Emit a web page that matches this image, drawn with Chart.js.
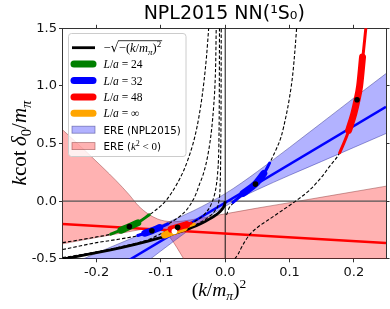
<!DOCTYPE html>
<html>
<head>
<meta charset="utf-8">
<script src="https://cdn.jsdelivr.net/npm/chart.js@4.4.0/dist/chart.umd.min.js"></script>
<style>
html, body { margin: 0; padding: 0; background: #fff; }
#c { display: block; }
</style>
</head>
<body>
<canvas id="c" width="390" height="309"></canvas>
<script>
// axes
const xRange = [-0.253, 0.25];
const yRange = [-0.5, 1.5];
const xTicks = [-0.2, -0.1, 0.0, 0.1, 0.2];
const yTicks = [-0.5, 0.0, 0.5, 1.0, 1.5];

// ERE band from the k^2 < 0 fit (pink)
const pinkX =     [-0.253, -0.22, -0.19, -0.17, -0.15, -0.135, -0.12, -0.105, -0.094, -0.08, -0.07, -0.06, -0.04, -0.02, 0.0, 0.05, 0.1, 0.162, 0.25];
const pinkUpper = [0.62, 0.45, 0.29, 0.18, 0.06, -0.04, -0.11, -0.155, -0.172, -0.178, -0.175, -0.168, -0.15, -0.13, -0.11, -0.06, -0.013, 0.046, 0.13];
const pinkLower = [-0.37, -0.335, -0.305, -0.285, -0.265, -0.25, -0.238, -0.24, -0.265, -0.36, -0.45, -0.54, -0.68, -0.82, -0.96, -1.3, -1.65, -2.05, -2.65];

// ERE band NPL2015 (blue)
const blueX =     [-0.253, -0.2, -0.15, -0.1, -0.05, -0.025, 0.0, 0.025, 0.05, 0.1, 0.15, 0.2, 0.25];
const blueUpper = [-0.58, -0.45, -0.333, -0.21, -0.085, -0.013, 0.065, 0.157, 0.257, 0.466, 0.68, 0.895, 1.107];
const blueLower = [-1.09, -0.86, -0.645, -0.432, -0.225, -0.13, -0.045, 0.033, 0.1, 0.225, 0.345, 0.466, 0.587];

// central ERE lines
const ereX = [-0.253, 0.25];
const ereBlueY = [-0.855, 0.818];
const ereRedY = [-0.197, -0.362];

// -sqrt(-(k/m)^2)
const boundX = [-0.253, -0.22, -0.2, -0.18, -0.16, -0.14, -0.12, -0.1, -0.08, -0.06, -0.05, -0.04, -0.03, -0.02, -0.015, -0.01, -0.006, -0.003, -0.001, 0];
const boundY = [-0.503, -0.469, -0.447, -0.424, -0.4, -0.374, -0.346, -0.316, -0.283, -0.245, -0.224, -0.2, -0.173, -0.141, -0.122, -0.1, -0.077, -0.055, -0.032, 0];

// finite volume curves (dashed)
const c24X = [-0.253, -0.22, -0.2, -0.176, -0.149, -0.13, -0.118, -0.1, -0.09, -0.076, -0.065, -0.058, -0.05, -0.044, -0.038, -0.033, -0.029, -0.0257];
const c24Y = [-0.36, -0.33, -0.31, -0.284, -0.221, -0.16, -0.118, -0.04, 0.02, 0.14, 0.26, 0.36, 0.5, 0.64, 0.83, 1.04, 1.26, 1.5];
const c32X = [-0.253, -0.2, -0.16, -0.136, -0.114, -0.1, -0.089, -0.075, -0.068, -0.06, -0.05, -0.045, -0.04, -0.035, -0.03, -0.027, -0.024, -0.021, -0.018, -0.016, -0.0148, -0.014];
const c32Y = [-0.42, -0.36, -0.325, -0.298, -0.256, -0.225, -0.198, -0.15, -0.12, -0.075, 0.01, 0.07, 0.147, 0.22, 0.32, 0.4, 0.5, 0.63, 0.82, 1.0, 1.2, 1.5];
const c48X = [-0.253, -0.2, -0.15, -0.12, -0.092, -0.074, -0.053, -0.04, -0.03, -0.022, -0.017, -0.014, -0.012, -0.0105, -0.0097, -0.0092, -0.0089];
const c48Y = [-0.49, -0.44, -0.38, -0.335, -0.262, -0.227, -0.19, -0.15, -0.1, -0.03, 0.05, 0.13, 0.23, 0.36, 0.55, 0.9, 1.5];
const c64X = [-0.253, -0.15, -0.1, -0.06, -0.04, -0.025, -0.015, -0.01, -0.008, -0.007, -0.0065, -0.0062];
const c64Y = [-0.5, -0.385, -0.313, -0.238, -0.188, -0.135, -0.075, -0.005, 0.12, 0.4, 0.8, 1.5];
const r48X = [0.015, 0.02, 0.025, 0.03, 0.038, 0.05, 0.069, 0.09, 0.11, 0.13, 0.15, 0.162, 0.178, 0.19, 0.2, 0.207, 0.213, 0.219];
const r48Y = [-0.5, -0.46, -0.405, -0.355, -0.29, -0.228, -0.155, -0.075, 0.003, 0.09, 0.21, 0.3, 0.42, 0.58, 0.76, 0.95, 1.2, 1.52];
const r32X = [0.002, 0.006, 0.012, 0.02, 0.03, 0.047, 0.061, 0.069, 0.08, 0.087, 0.095, 0.1, 0.105, 0.109, 0.111];
const r32Y = [-0.12, -0.06, -0.02, 0.02, 0.075, 0.15, 0.247, 0.33, 0.46, 0.56, 0.75, 0.9, 1.1, 1.35, 1.5];

// lattice levels: thin = outer error, thick = inner error
const g24ThinX = [-0.178, -0.163, -0.149, -0.135, -0.118];
const g24ThinY = [-0.286, -0.254, -0.221, -0.184, -0.118];
const g24ThickX = [-0.162, -0.149, -0.136];
const g24ThickY = [-0.252, -0.221, -0.188];
const b32ThinX = [-0.136, -0.125, -0.114, -0.102, -0.089];
const b32ThinY = [-0.298, -0.278, -0.256, -0.229, -0.198];
const b32ThickX = [-0.125, -0.114, -0.102];
const b32ThickY = [-0.278, -0.256, -0.229];
const b32bThinX = [0.012, 0.03, 0.047, 0.061, 0.069];
const b32bThinY = [-0.01, 0.075, 0.15, 0.247, 0.33];
const b32bThickX = [0.028, 0.047, 0.06];
const b32bThickY = [0.068, 0.15, 0.24];
const r48ThinX = [-0.092, -0.074, -0.053];
const r48ThinY = [-0.258, -0.227, -0.19];
const r48ThickX = [-0.084, -0.074, -0.06];
const r48ThickY = [-0.243, -0.227, -0.203];
const r48bThinX = [0.178, 0.19, 0.2, 0.207, 0.213, 0.219];
const r48bThinY = [0.42, 0.58, 0.76, 0.95, 1.2, 1.52];
const r48bThickX = [0.192, 0.2, 0.205, 0.209, 0.2135];
const r48bThickY = [0.615, 0.76, 0.88, 1.0, 1.25];
const oInfThinX = [-0.097, -0.088, -0.079, -0.064, -0.048];
const oInfThinY = [-0.3, -0.28, -0.261, -0.232, -0.198];
const oInfThickX = [-0.094, -0.079, -0.064];
const oInfThickY = [-0.293, -0.261, -0.232];

// central values
const dotX = [-0.149, -0.114, 0.047, -0.074, 0.205];
const dotY = [-0.221, -0.256, 0.148, -0.227, 0.88];
const infDotX = [-0.079];
const infDotY = [-0.261];

const SERIF = '"Liberation Serif", "DejaVu Serif", serif';
const SANS = '"DejaVu Sans", sans-serif';

function pts(xs, ys) {
    return xs.map((x, i) => ({ x: x, y: ys[i] }));
}

// z: larger is drawn on top
function line(xs, ys, z, opts) {
    return Object.assign({
        data: pts(xs, ys),
        showLine: true,
        pointRadius: 0,
        borderWidth: 1,
        borderColor: '#000',
        fill: false,
        tension: 0,
        clip: 0,
        order: -z
    }, opts);
}

function smooth(xs, ys, z, opts) {
    return line(xs, ys, z, Object.assign({ cubicInterpolationMode: 'monotone' }, opts));
}

const dash = { borderDash: [3.5, 2], borderWidth: 1.1, borderColor: '#000' };
const thin = (c) => ({ borderColor: c, borderWidth: 3, borderCapStyle: 'round' });
const thick = (c) => ({ borderColor: c, borderWidth: 7, borderCapStyle: 'round' });

const datasets = [
    // 0,1 pink band
    smooth(pinkX, pinkUpper, 1, { fill: '+1', backgroundColor: 'rgba(255,0,0,0.3)', borderColor: 'rgba(140,60,60,0.6)', borderWidth: 0.8 }),
    smooth(pinkX, pinkLower, 1, { borderColor: 'rgba(140,60,60,0.6)', borderWidth: 0.8 }),
    // 2,3 blue band
    smooth(blueX, blueUpper, 2, { fill: '+1', backgroundColor: 'rgba(0,0,255,0.3)', borderColor: 'rgba(60,60,140,0.6)', borderWidth: 0.8 }),
    smooth(blueX, blueLower, 2, { borderColor: 'rgba(60,60,140,0.6)', borderWidth: 0.8 }),
    line([xRange[0], xRange[1]], [0, 0], 3, { borderColor: '#555', borderWidth: 1.3 }),
    line([0, 0], [yRange[0], yRange[1]], 3, { borderColor: '#111', borderWidth: 1 }),
    line(ereX, ereRedY, 4, { borderColor: '#ff0000', borderWidth: 2.5 }),
    line(ereX, ereBlueY, 4, { borderColor: '#0000ff', borderWidth: 2.5 }),
    smooth(c24X, c24Y, 5, dash),
    smooth(c32X, c32Y, 5, dash),
    smooth(c48X, c48Y, 5, dash),
    smooth(c64X, c64Y, 5, dash),
    smooth(r48X, r48Y, 5, dash),
    smooth(r32X, r32Y, 5, dash),
    smooth(boundX, boundY, 6, { borderColor: '#000', borderWidth: 2.8 }),
    smooth(g24ThinX, g24ThinY, 7, thin('#008000')),
    smooth(b32ThinX, b32ThinY, 7, thin('#0000ff')),
    smooth(b32bThinX, b32bThinY, 7, thin('#0000ff')),
    smooth(r48ThinX, r48ThinY, 7, thin('#ff0000')),
    smooth(r48bThinX, r48bThinY, 7, thin('#ff0000')),
    smooth(oInfThinX, oInfThinY, 7, thin('#ffa500')),
    smooth(g24ThickX, g24ThickY, 8, thick('#008000')),
    smooth(b32ThickX, b32ThickY, 8, thick('#0000ff')),
    smooth(b32bThickX, b32bThickY, 8, thick('#0000ff')),
    smooth(r48ThickX, r48ThickY, 8, thick('#ff0000')),
    smooth(r48bThickX, r48bThickY, 8, thick('#ff0000')),
    smooth(oInfThickX, oInfThickY, 8, thick('#ffa500')),
    { data: pts(dotX, dotY), showLine: false, pointRadius: 2.8, pointBackgroundColor: '#000', pointBorderWidth: 0, clip: 0, order: -9 },
    { data: pts(infDotX, infDotY), showLine: false, pointRadius: 2.8, pointBackgroundColor: '#fff', pointBorderWidth: 0, clip: 0, order: -9 }
];

// text with sub/superscripts: [text, font, dy, extraSpace]
function rich(ctx, parts, x, y, align) {
    let w = 0;
    parts.forEach(p => { ctx.font = p[1]; w += ctx.measureText(p[0]).width + (p[3] || 0); });
    let cx = align === 'center' ? x - w / 2 : x;
    parts.forEach(p => {
        ctx.font = p[1];
        ctx.fillText(p[0], cx, y + (p[2] || 0));
        cx += ctx.measureText(p[0]).width + (p[3] || 0);
    });
    return cx;
}

const it = (s) => 'italic ' + s + 'px ' + SERIF;
const rm = (s) => s + 'px ' + SERIF;

const axisTitles = {
    id: 'axisTitles',
    afterDraw(chart) {
        const ctx = chart.ctx;
        ctx.save();
        ctx.fillStyle = '#000';
        ctx.textBaseline = 'alphabetic';
        ctx.textAlign = 'left';
        rich(ctx, [['(', rm(19.5)], ['k', it(19.5)], ['/', rm(19.5)], ['m', it(19.5)], ['π', it(13.5), 4],
                   [')', rm(19.5)], ['2', rm(13.5), -8]], 219, 296, 'center');
        ctx.translate(26, 143);
        ctx.rotate(-Math.PI / 2);
        rich(ctx, [['k', it(21)], ['cot', rm(21), 0, 4.5], ['δ', it(21)], ['0', rm(14.5), 4.5],
                   ['/', rm(21)], ['m', it(21)], ['π', it(14.5), 4.5]], 0, 0, 'center');
        ctx.restore();
    }
};

const legendBox = {
    id: 'legendBox',
    afterDraw(chart) {
        const ctx = chart.ctx;
        const x0 = 68.5, y0 = 33.5, w = 117.5, h = 123, r = 3;
        ctx.save();
        ctx.beginPath();
        ctx.roundRect(x0, y0, w, h, r);
        ctx.fillStyle = 'rgba(255,255,255,0.8)';
        ctx.fill();
        ctx.strokeStyle = '#cccccc';
        ctx.lineWidth = 1;
        ctx.stroke();

        const hx0 = 72, hx1 = 95, tx = 103.5;
        const rowY = (i) => 47.7 + i * 16.4;
        // handles
        ctx.strokeStyle = '#000';
        ctx.lineWidth = 2.8;
        ctx.lineCap = 'butt';
        ctx.beginPath(); ctx.moveTo(hx0, rowY(0)); ctx.lineTo(hx1, rowY(0)); ctx.stroke();
        ctx.lineCap = 'round';
        ['#008000', '#0000ff', '#ff0000', '#ffa500'].forEach((c, i) => {
            ctx.strokeStyle = c;
            ctx.lineWidth = 7;
            ctx.beginPath(); ctx.moveTo(hx0 + 2, rowY(i + 1)); ctx.lineTo(hx1 - 2, rowY(i + 1)); ctx.stroke();
        });
        [['rgba(0,0,255,0.3)', 'rgba(60,60,140,0.6)'], ['rgba(255,0,0,0.3)', 'rgba(140,60,60,0.6)']].forEach((c, i) => {
            const yy = rowY(i + 5);
            ctx.fillStyle = c[0];
            ctx.fillRect(hx0, yy - 3.5, hx1 - hx0, 7);
            ctx.strokeStyle = c[1];
            ctx.lineWidth = 0.8;
            ctx.strokeRect(hx0, yy - 3.5, hx1 - hx0, 7);
        });

        // labels
        ctx.fillStyle = '#000';
        ctx.textBaseline = 'alphabetic';
        let y = rowY(0) + 4.5;
        let cx = rich(ctx, [['−', rm(12.5)], ['√', '13px ' + SANS]], tx, y);
        const start = cx;
        cx = rich(ctx, [['−(', rm(12.5)], ['k', it(12.5)], ['/', rm(12.5)], ['m', it(12.5)], ['π', it(9), 2.5],
                        [')', rm(12.5)], ['2', rm(9), -5]], cx, y);
        ctx.strokeStyle = '#000';
        ctx.lineWidth = 0.8;
        ctx.beginPath(); ctx.moveTo(start - 0.5, y - 11.5); ctx.lineTo(cx + 0.5, y - 11.5); ctx.stroke();

        ['24', '32', '48', '∞'].forEach((v, i) => {
            rich(ctx, [['L', it(11.5)], ['/', rm(11.5)], ['a', it(11.5)], [' = ', rm(11.5)], [v, rm(11.5)]], tx, rowY(i + 1) + 4);
        });
        rich(ctx, [['ERE (NPL2015)', '10.3px ' + SANS]], tx, rowY(5) + 4);
        rich(ctx, [['ERE (', '10.3px ' + SANS], ['k', it(11)], ['2', rm(8), -4.5], [' < 0', rm(11)], [')', '10.3px ' + SANS]], tx, rowY(6) + 4);
        ctx.restore();
    }
};

const tickGrid = { drawOnChartArea: false, drawTicks: true, tickLength: 3.5, tickColor: '#333', tickWidth: 1 };
const spine = { display: true, color: '#333', width: 1 };
const tickFont = { family: 'DejaVu Sans', size: 13 };

new Chart(document.getElementById('c'), {
    type: 'scatter',
    data: { datasets: datasets },
    options: {
        responsive: false,
        animation: false,
        events: [],
        layout: { padding: { left: 0, right: 3.3, top: 0, bottom: 0 } },
        plugins: {
            legend: { display: false },
            tooltip: { enabled: false },
            title: {
                display: true,
                text: 'NPL2015 NN(¹S₀)',
                fullSize: false,
                color: '#000',
                font: { family: 'DejaVu Sans', size: 19, weight: 'normal', lineHeight: 1.2 },
                padding: { top: 3, bottom: 2.5 }
            }
        },
        scales: {
            x: {
                type: 'linear', position: 'bottom', min: xRange[0], max: xRange[1],
                afterBuildTicks: s => { s.ticks = xTicks.map(v => ({ value: v })); },
                afterFit: s => { s.height = 50.2; },
                grid: tickGrid, border: spine,
                ticks: { color: '#111', font: tickFont, padding: 3, maxRotation: 0, callback: v => v.toFixed(1) }
            },
            x2: {
                type: 'linear', position: 'top', min: xRange[0], max: xRange[1],
                afterBuildTicks: s => { s.ticks = xTicks.map(v => ({ value: v })); },
                afterFit: s => { s.height = 0; },
                grid: tickGrid, border: spine,
                ticks: { display: false }
            },
            y: {
                type: 'linear', position: 'left', min: yRange[0], max: yRange[1],
                afterBuildTicks: s => { s.ticks = yTicks.map(v => ({ value: v })); },
                afterFit: s => { s.width = 62.5; },
                grid: tickGrid, border: spine,
                ticks: { color: '#111', font: tickFont, padding: 2, callback: v => v.toFixed(1) }
            },
            y2: {
                type: 'linear', position: 'right', min: yRange[0], max: yRange[1],
                afterBuildTicks: s => { s.ticks = yTicks.map(v => ({ value: v })); },
                afterFit: s => { s.width = 0; },
                grid: tickGrid, border: spine,
                ticks: { display: false }
            }
        }
    },
    plugins: [axisTitles, legendBox]
});
</script>
</body>
</html>
